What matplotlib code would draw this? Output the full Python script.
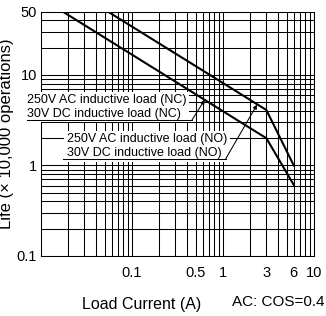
import matplotlib
matplotlib.use("Agg")
import matplotlib.pyplot as plt

plt.rcParams['font.family'] = ['Liberation Sans', 'DejaVu Sans']

# life curves (x: load current A, y: life x10,000 ops)
current_nc = [0.0174, 3, 6]
life_nc = [50, 2.0, 0.61]
current_no = [0.0545, 3, 6]
life_no = [50, 4.1, 1.0]

xticks = [0.1, 0.5, 1, 3, 6, 10]
xticklabels = ['0.1', '0.5', '1', '3', '6', '10']
yticks = [0.1, 1, 10, 50]
yticklabels = ['0.1', '1', '10', '50']

label_nc = "250V AC inductive load (NC)\n30V DC inductive load (NC)"
label_no = "250V AC inductive load (NO)\n30V DC inductive load (NO)"

fig = plt.figure(figsize=(3.26, 3.16), dpi=100)
ax = fig.add_axes([0.1258, 0.19, 0.963 - 0.1258, 0.963 - 0.19])

ax.set_xscale('log')
ax.set_yscale('log')
ax.set_xlim(0.01, 10)
ax.set_ylim(0.1, 50)

ax.grid(which='both', color='black', linewidth=0.75)
ax.set_axisbelow(True)
for s in ax.spines.values():
    s.set_linewidth(0.75)

ax.set_xticks(xticks)
ax.set_xticklabels(xticklabels)
ax.set_yticks(yticks)
ax.set_yticklabels(yticklabels)
ax.tick_params(which='both', length=0, labelsize=10.5)
ax.tick_params(axis='x', pad=7)
ax.tick_params(axis='y', pad=3)

ax.plot(current_nc, life_nc, color='black', linewidth=1.5, zorder=5)
ax.plot(current_no, life_no, color='black', linewidth=1.5, zorder=5)

# labels with white boxes, underline and leader arrow
ax.text(0.0070, 3.44, label_nc, ha='left', va='baseline', fontsize=9,
        linespacing=1.2, clip_on=False, zorder=6,
        bbox=dict(facecolor='white', edgecolor='none', pad=1.8))
ax.plot([0.0070, 0.457], [3.18, 3.18], color='black', lw=0.75,
        clip_on=False, zorder=7)
ax.annotate('', xy=(0.63, 5.3), xytext=(0.457, 3.18),
            arrowprops=dict(arrowstyle='-|>', color='black', lw=0.75,
                            mutation_scale=6, shrinkA=0, shrinkB=0),
            zorder=7)

ax.text(0.0193, 1.27, label_no, ha='left', va='baseline', fontsize=9,
        linespacing=1.2, clip_on=False, zorder=6,
        bbox=dict(facecolor='white', edgecolor='none', pad=1.8))
ax.plot([0.0174, 1.07], [1.18, 1.18], color='black', lw=0.75, zorder=7)
ax.annotate('', xy=(2.37, 4.7), xytext=(1.07, 1.18),
            arrowprops=dict(arrowstyle='-|>', color='black', lw=0.75,
                            mutation_scale=6, shrinkA=0, shrinkB=0),
            zorder=7)

fig.text(7 / 326, 1 - 134 / 316, 'Life (× 10,000 operations)', rotation=90,
         ha='center', va='center', fontsize=12)
fig.text(142 / 326, 1 - 304 / 316, 'Load Current (A)', ha='center',
         va='center', fontsize=11.5)
fig.text(325 / 326, 1 - 302 / 316, 'AC: COS=0.4', ha='right', va='center',
         fontsize=11)

fig.savefig('out.png', dpi=100)
